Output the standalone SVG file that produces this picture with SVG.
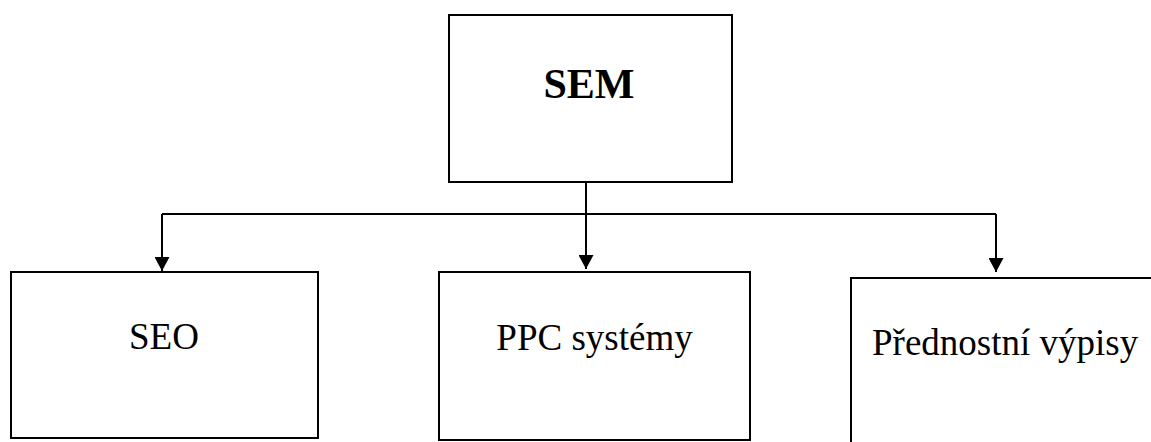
<svg xmlns="http://www.w3.org/2000/svg" width="1151" height="442" viewBox="0 0 1151 442">
<style>
.box{fill:#fff;stroke:#000;stroke-width:2}
.ln{fill:none;stroke:#000;stroke-width:2}
.arr{fill:none;stroke:#000;stroke-width:2;marker-end:url(#ah)}
.t{font-family:"Liberation Serif","Times New Roman",serif;font-size:37px;fill:#000}
</style>
<defs>
<marker id="ah" markerWidth="14" markerHeight="15" refX="14" refY="7.5" orient="auto" markerUnits="userSpaceOnUse" viewBox="0 0 14 15">
<path d="M0,0 L14,7.5 L0,15 Z" fill="#000"/>
</marker>
</defs>
<rect width="1151" height="442" fill="#fff"/>
<g id="connectors">
<line class="ln" x1="586" y1="182" x2="586" y2="214"/>
<line class="ln" x1="162" y1="214" x2="996" y2="214"/>
<path class="arr" d="M162,214 V271"/>
<path class="arr" d="M586,214 V269"/>
<path class="arr" d="M996,214 V272"/>
</g>
<g id="sem">
<rect class="box" x="449" y="15" width="283" height="167"/>
<text x="589" y="98" text-anchor="middle" style="font-family:'Liberation Serif','Times New Roman',serif;font-size:42px;font-weight:bold">SEM</text>
</g>
<g id="seo">
<rect class="box" x="11" y="272" width="307" height="166"/>
<text class="t" x="164" y="349" text-anchor="middle">SEO</text>
</g>
<g id="ppc">
<rect class="box" x="439" y="272" width="311" height="168"/>
<text class="t" x="594.5" y="350" text-anchor="middle">PPC systémy</text>
</g>
<g id="prednostni">
<path class="ln" d="M851,443 V278 H1152"/>
<text class="t" x="872" y="355">Přednostní výpisy</text>
</g>
</svg>
